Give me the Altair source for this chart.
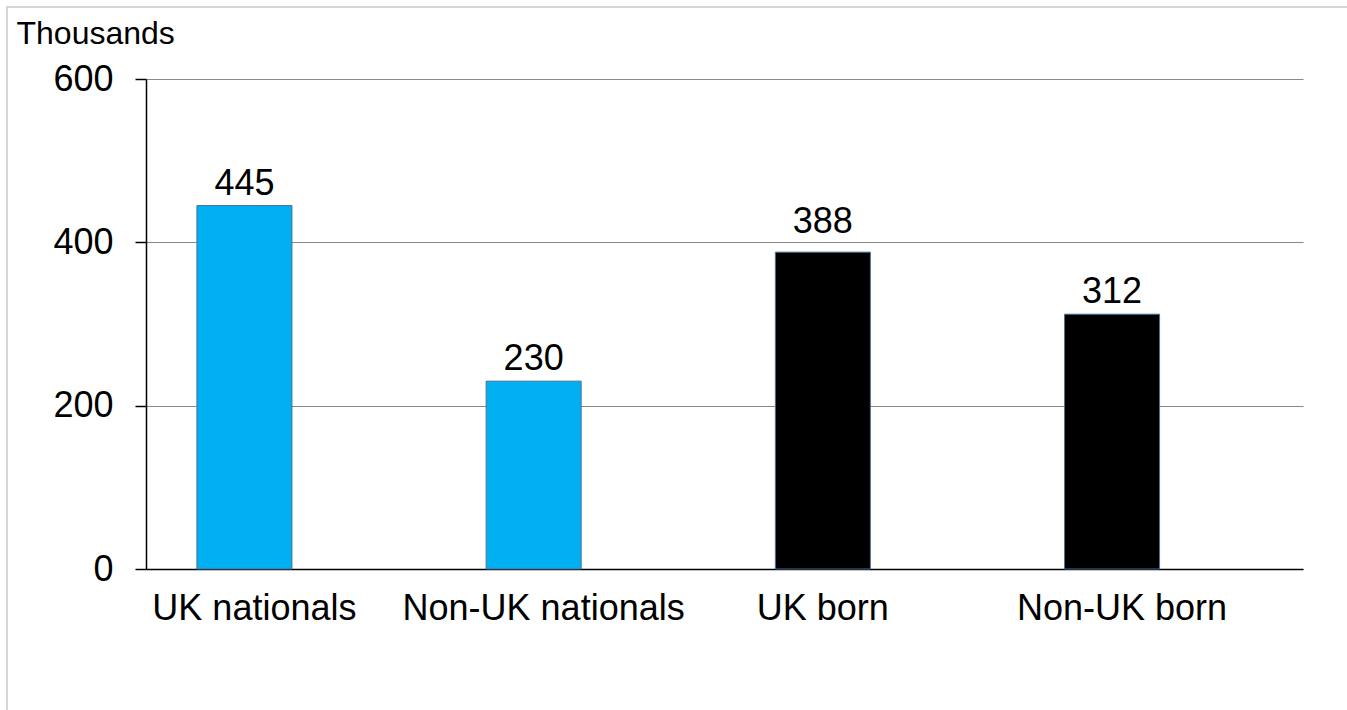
import altair as alt
import pandas as pd

categories = ["UK nationals", "Non-UK nationals", "UK born", "Non-UK born"]
values = [445, 230, 388, 312]
colors = ["#00B0F0", "#00B0F0", "#000000", "#000000"]

df = pd.DataFrame({"cat": categories, "val": values, "col": colors})

FONT = "Liberation Sans"

xscale = alt.Scale(domain=categories, paddingInner=0.6715, paddingOuter=0.336, align=0.262)
yscale = alt.Scale(domain=[0, 600])

base = alt.Chart(df)

bars = base.mark_bar(stroke="#4a6f9a", strokeWidth=1).encode(
    x=alt.X("cat:N", scale=xscale, sort=categories,
            axis=alt.Axis(title=None, labelAngle=0, ticks=False, labelFontSize=36,
                          labelFont=FONT, labelColor="#000000", labelPadding=22,
                          labelOffset={"condition": {"test": "datum.value == 'UK born'", "value": 0}, "value": 10},
                          labelLimit=0, domainColor="#000000",
                          domainWidth=1.5, grid=False)),
    y=alt.Y("val:Q", scale=yscale,
            axis=alt.Axis(values=[0, 200, 400, 600], title="Thousands", titleAngle=0,
                          titleX=-130, titleY=-36, titleAlign="left",
                          titleBaseline="alphabetic", titleFontSize=32,
                          titleFontWeight="normal", titleFont=FONT, titleColor="#000000",
                          labelFontSize=36, labelFont=FONT, labelColor="#000000",
                          labelPadding=22, tickSize=11, tickColor="#000000",
                          tickWidth=1.5, domainColor="#000000", domainWidth=1.5,
                          grid=True, gridColor="#888888", gridWidth=1.2)),
    color=alt.Color("col:N", scale=None),
)

labels = base.transform_filter(alt.datum.cat != "UK born").mark_text(
    fontSize=36, font=FONT, color="#000000", baseline="alphabetic", dy=-11
).encode(
    x=alt.X("cat:N", scale=xscale, sort=categories),
    y=alt.Y("val:Q", scale=yscale),
    text=alt.Text("val:Q"),
)

labels_high = base.transform_filter(alt.datum.cat == "UK born").mark_text(
    fontSize=36, font=FONT, color="#000000", baseline="alphabetic", dy=-19
).encode(
    x=alt.X("cat:N", scale=xscale, sort=categories),
    y=alt.Y("val:Q", scale=yscale),
    text=alt.Text("val:Q"),
)

border = alt.Chart(pd.DataFrame({"a": [0]})).mark_rect(
    fill=None, stroke="#c8c8c8", strokeWidth=1.5
).encode(
    x=alt.value(-139), x2=alt.value(1260), y=alt.value(-72), y2=alt.value(700)
)

chart = alt.layer(border, bars, labels, labels_high).properties(
    width=1157, height=490,
    background="#ffffff",
    autosize=alt.AutoSizeParams(type="none"),
    padding={"left": 146, "top": 79, "right": 44, "bottom": 141},
).configure_view(stroke=None, strokeWidth=0)

chart.save("out.html", embed_options={"renderer": "svg", "actions": False})
